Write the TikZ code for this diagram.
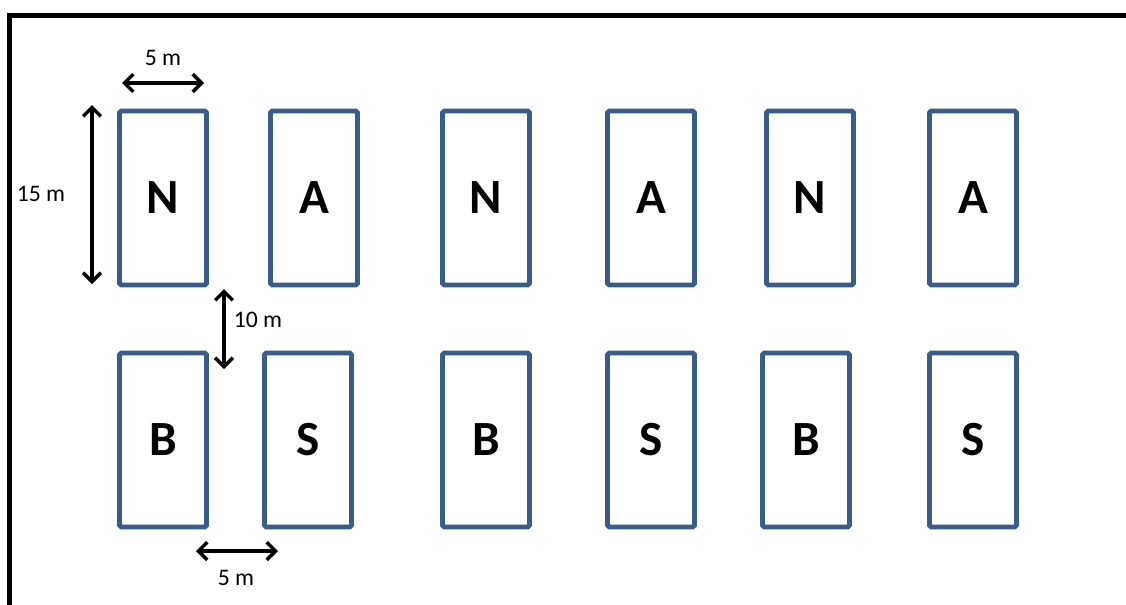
\documentclass[tikz,border=0pt]{standalone}
\usepackage{fontspec}
\setmainfont{Carlito}
\usetikzlibrary{arrows.meta}
\definecolor{PlotClr}{HTML}{385D8A}

\tikzset{
  plot/.style={draw=PlotClr,line width=2.8pt,rounded corners=1pt,
    minimum width=1.74cm,minimum height=3.48cm,inner sep=0pt,
    font=\fontsize{28}{30}\selectfont\bfseries},
  dimarrow/.style={line width=2pt,{Straight Barb[length=5pt,width=10pt]}-{Straight Barb[length=5pt,width=10pt]}},
  dimlabel/.style={font=\fontsize{13.5}{15}\selectfont,inner sep=1pt}
}

\begin{document}
\begin{tikzpicture}[x=0.02cm,y=-0.02cm]
\useasboundingbox (0,0) rectangle (1126,605);

% field border
\draw[line width=2.8pt] (9.8,605) -- (9.8,15.8) -- (1126,15.8);

% top row
\node[plot] (n1) at (163,198) {N};
\node[plot] (a1) at (314,198) {A};
\node[plot] (n2) at (486,198) {N};
\node[plot] (a2) at (651,198) {A};
\node[plot] (n3) at (810,198) {N};
\node[plot] (a3) at (973,198) {A};

% bottom row
\node[plot] (b1) at (163,440) {B};
\node[plot] (s1) at (308,440) {S};
\node[plot] (b2) at (486,440) {B};
\node[plot] (s2) at (651,440) {S};
\node[plot] (b3) at (806,440) {B};
\node[plot] (s3) at (973,440) {S};

% dimensions
\coordinate (wl) at (122,83);
\coordinate (wr) at (204,83);
\coordinate (ht) at (92,105);
\coordinate (hb) at (92,284);
\coordinate (gt) at (224,289);
\coordinate (gb) at (224,369);
\coordinate (sl) at (196,551);
\coordinate (sr) at (278,551);

\draw[dimarrow] (wl) -- (wr);
\draw[dimarrow] (ht) -- (hb);
\draw[dimarrow] (gt) -- (gb);
\draw[dimarrow] (sl) -- (sr);

\node[dimlabel] (wlab) at (163,58) {5 m};
\node[dimlabel] (hlab) at (41,194) {15 m};
\node[dimlabel] (glab) at (258,320) {10 m};
\node[dimlabel] (slab) at (236,578) {5 m};

\end{tikzpicture}
\end{document}
